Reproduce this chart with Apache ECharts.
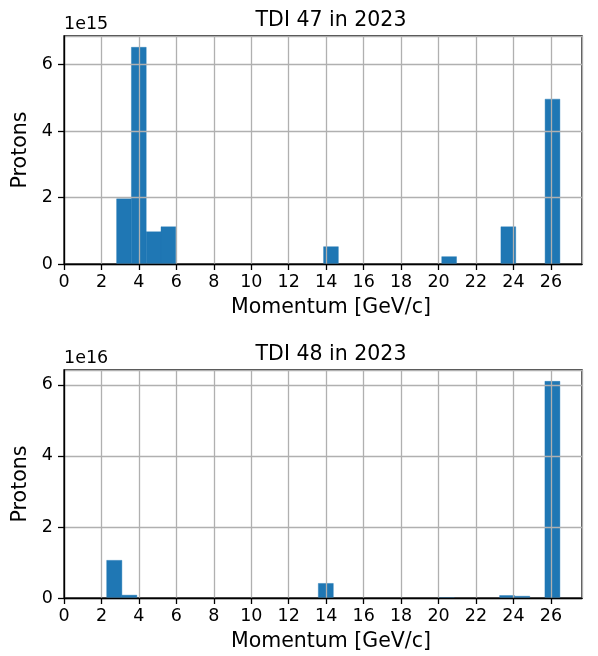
<!DOCTYPE html>
<html>
<head>
<meta charset="utf-8">
<script src="https://cdn.jsdelivr.net/npm/echarts@6/dist/echarts.min.js"></script>
<style>
    html, body { margin: 0; padding: 0; background: #fff; }
    #chart { width: 598px; height: 656px; }
</style>
</head>
<body>
<div id="chart"></div>
<script>
// histogram bins (GeV/c), only the non-empty ones
const tdi47Lo = [2.81, 3.60, 4.39, 5.18, 13.86, 20.17, 23.33, 25.69]
const tdi47Hi = [3.60, 4.39, 5.18, 5.97, 14.65, 20.96, 24.12, 26.48]
const tdi47Protons = [1.96e15, 6.52e15, 0.97e15, 1.12e15, 0.52e15, 0.22e15, 1.12e15, 4.96e15]

const tdi48Lo = [2.28, 3.09, 13.58, 20.03, 23.26, 24.06, 25.68]
const tdi48Hi = [3.09, 3.89, 14.38, 20.84, 24.06, 24.87, 26.48]
const tdi48Protons = [1.06e16, 0.08e16, 0.41e16, 0.01e16, 0.07e16, 0.05e16, 6.10e16]

const titles = ['TDI 47 in 2023', 'TDI 48 in 2023']
const scaleTexts = ['1e15', '1e16']
const scales = [1e15, 1e16]

const font = 'DejaVu Sans'
const barColor = '#1f77b4'
const gridTops = [36, 370]
const gridHeight = 228

function binData(lo, hi, vals) {
    return vals.map((v, i) => [lo[i], hi[i], v])
}

function renderBar(params, api) {
    let p0 = api.coord([api.value(0), api.value(2)])
    let p1 = api.coord([api.value(1), 0])
    return {
        type: 'rect',
        shape: { x: p0[0], y: p0[1], width: p1[0] - p0[0], height: p1[1] - p0[1] },
        style: { fill: barColor, stroke: barColor, lineWidth: 0.4 }
    }
}

function xAxisCfg(idx) {
    return {
        type: 'value', gridIndex: idx, min: 0, max: 27.66, interval: 2, z: 3,
        name: 'Momentum [GeV/c]', nameLocation: 'middle', nameGap: 33,
        nameTextStyle: { fontFamily: font, fontSize: 20.5, color: '#000', padding: [0, 0, 0, 16] },
        axisLine: { show: true, onZero: false, lineStyle: { color: '#000', width: 1.3 } },
        axisTick: { show: true, length: 6, lineStyle: { color: '#000', width: 1.3 } },
        axisLabel: { fontFamily: font, fontSize: 17.5, color: '#000', margin: 9, showMaxLabel: false },
        splitLine: { show: true, lineStyle: { color: '#b0b0b0', width: 1.3 } }
    }
}

function yAxisCfg(idx, max) {
    return {
        type: 'value', gridIndex: idx, min: 0, max: max, interval: 2 * scales[idx], z: 3,
        name: 'Protons', nameLocation: 'middle', nameGap: 29,
        nameTextStyle: { fontFamily: font, fontSize: 20.5, color: '#000' },
        axisLine: { show: true, lineStyle: { color: '#000', width: 1.3 } },
        axisTick: { show: true, length: 6, lineStyle: { color: '#000', width: 1.3 } },
        axisLabel: {
            fontFamily: font, fontSize: 17.5, color: '#000', margin: 11, showMaxLabel: false,
            formatter: v => String(Math.round(v / scales[idx]))
        },
        splitLine: { show: true, lineStyle: { color: '#b0b0b0', width: 1.3 } }
    }
}

const option = {
    animation: false,
    backgroundColor: '#fff',
    title: titles.map((t, i) => ({
        text: t, left: 326, top: gridTops[i] - 31, textAlign: 'center',
        textStyle: { fontFamily: font, fontSize: 20.5, fontWeight: 'normal', color: '#000' }
    })),
    graphic: scaleTexts.map((t, i) => ({
        type: 'text', left: 64, top: gridTops[i] - 21,
        style: { text: t, fontFamily: font, fontSize: 17.5, fill: '#000' }
    })),
    grid: gridTops.map(t => ({
        left: 64, right: 16, top: t, height: gridHeight,
        show: true, borderColor: '#000', borderWidth: 1.3, backgroundColor: 'transparent'
    })),
    xAxis: [xAxisCfg(0), xAxisCfg(1)],
    yAxis: [yAxisCfg(0, 6.86e15), yAxisCfg(1, 6.42e16)],
    series: [{
        type: 'custom', xAxisIndex: 0, yAxisIndex: 0, z: 2,
        renderItem: renderBar, encode: { x: [0, 1], y: 2 },
        data: binData(tdi47Lo, tdi47Hi, tdi47Protons)
    }, {
        type: 'custom', xAxisIndex: 1, yAxisIndex: 1, z: 2,
        renderItem: renderBar, encode: { x: [0, 1], y: 2 },
        data: binData(tdi48Lo, tdi48Hi, tdi48Protons)
    }]
}

let chart = echarts.init(document.getElementById('chart'), null, { renderer: 'canvas' })
chart.setOption(option)
</script>
</body>
</html>
